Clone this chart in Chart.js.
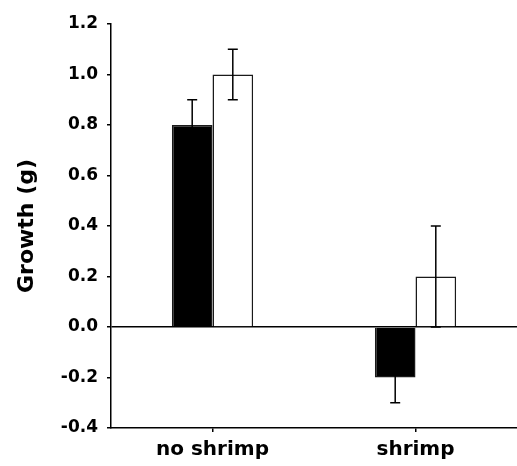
<!DOCTYPE html>
<html>
<head>
<meta charset="utf-8">
<script src="https://cdn.jsdelivr.net/npm/chart.js@4.4.1/dist/chart.umd.min.js"></script>
<style>
  html, body { margin: 0; padding: 0; background: #fff; }
  #wrap { width: 517px; height: 466px; }
</style>
</head>
<body>
<div id="wrap"><canvas id="c" width="517" height="466"></canvas></div>
<script>
const categories = ['no shrimp', 'shrimp'];
const blackValues = [0.8, -0.2];
const whiteValues = [1.0, 0.2];
const blackErrors = [0.1, 0.1];
const whiteErrors = [0.1, 0.2];
const yMin = -0.4;
const yMax = 1.2;
const yStep = 0.2;
const yTitle = 'Growth (g)';

const errorBarPlugin = {
  id: 'errorBars',
  afterDatasetsDraw(chart) {
    const ctx = chart.ctx;
    const yScale = chart.scales.y;
    chart.data.datasets.forEach((ds, di) => {
      const meta = chart.getDatasetMeta(di);
      meta.data.forEach((bar, i) => {
        const v = ds.data[i];
        const e = ds.errors[i];
        const x = bar.x;
        const yTop = yScale.getPixelForValue(v + e);
        const yBot = yScale.getPixelForValue(v - e);
        ctx.save();
        ctx.strokeStyle = '#000';
        ctx.lineWidth = 1.5;
        ctx.beginPath();
        ctx.moveTo(x, yTop); ctx.lineTo(x, yBot);
        ctx.moveTo(x - 5, yTop); ctx.lineTo(x + 5, yTop);
        ctx.moveTo(x - 5, yBot); ctx.lineTo(x + 5, yBot);
        ctx.stroke();
        ctx.restore();
      });
    });
  }
};

new Chart(document.getElementById('c'), {
  type: 'bar',
  data: {
    labels: categories,
    datasets: [
      { data: blackValues, errors: blackErrors, backgroundColor: '#000', borderColor: '#1a1a1a', borderWidth: 1.5 },
      { data: whiteValues, errors: whiteErrors, backgroundColor: '#fff', borderColor: '#1a1a1a', borderWidth: 1.5 }
    ]
  },
  options: {
    responsive: false,
    animation: false,
    devicePixelRatio: 1,
    layout: { padding: { top: 24, right: 0, left: 0, bottom: 0 } },
    plugins: { legend: { display: false }, tooltip: { enabled: false } },
    datasets: { bar: { categoryPercentage: 0.4, barPercentage: 1.0 } },
    scales: {
      x: {
        grid: { offset: false, drawOnChartArea: false, tickLength: 4, tickColor: '#000', lineWidth: 1.5 },
        border: { color: '#000', width: 1.5 },
        ticks: { color: '#000', padding: 6, font: { family: 'DejaVu Sans', weight: 'bold', size: 20 } },
        afterFit(scale) { scale.height = 38; }
      },
      y: {
        min: yMin, max: yMax,
        ticks: {
          stepSize: yStep, color: '#000', padding: 9,
          font: { family: 'DejaVu Sans', weight: 'bold', size: 17 },
          callback: v => Number(v).toFixed(1)
        },
        grid: {
          color: c => (c.tick && Math.abs(c.tick.value) < 1e-9) ? '#000' : 'rgba(0,0,0,0)',
          tickColor: '#000', tickLength: 4, lineWidth: 1.5
        },
        border: { color: '#000', width: 1.5 },
        title: {
          display: true, text: yTitle, color: '#000',
          font: { family: 'DejaVu Sans', weight: 'bold', size: 22 },
          padding: { top: 14, bottom: 0 }
        },
        afterFit(scale) { scale.width = 111; }
      }
    }
  },
  plugins: [errorBarPlugin]
});
</script>
</body>
</html>
